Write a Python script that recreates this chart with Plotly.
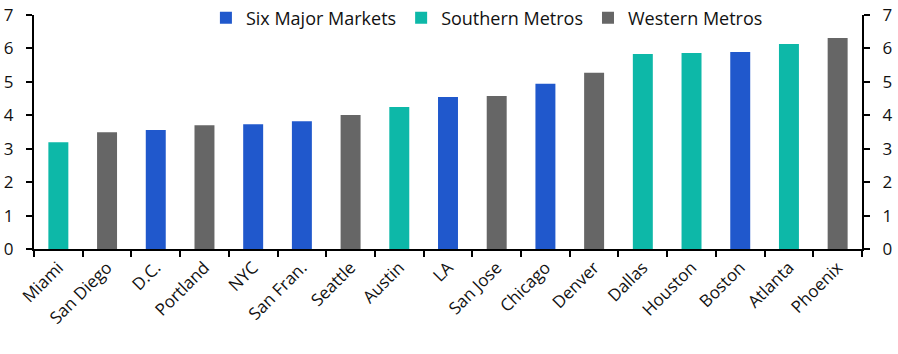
import plotly.graph_objects as go

cities = ["Miami", "San Diego", "D.C.", "Portland", "NYC", "San Fran.", "Seattle", "Austin",
          "LA", "San Jose", "Chicago", "Denver", "Dallas", "Houston", "Boston", "Atlanta", "Phoenix"]
values = [3.19, 3.49, 3.56, 3.70, 3.73, 3.82, 4.01, 4.25, 4.55, 4.58, 4.94, 5.27, 5.83, 5.86, 5.89, 6.13, 6.31]
groups = ["Southern Metros", "Western Metros", "Six Major Markets", "Western Metros", "Six Major Markets",
          "Six Major Markets", "Western Metros", "Southern Metros", "Six Major Markets", "Western Metros",
          "Six Major Markets", "Western Metros", "Southern Metros", "Southern Metros", "Six Major Markets",
          "Southern Metros", "Western Metros"]
series = ["Six Major Markets", "Southern Metros", "Western Metros"]
colors = {"Six Major Markets": "#2058CC", "Southern Metros": "#0DB8A8", "Western Metros": "#666666"}
yticks = [0, 1, 2, 3, 4, 5, 6, 7]

font = "Open Sans"
fig = go.Figure()
for s in series:
    xs = [c for c, g in zip(cities, groups) if g == s]
    ys = [v for v, g in zip(values, groups) if g == s]
    fig.add_trace(go.Bar(x=xs, y=ys, name=s, marker_color=colors[s], marker_line_width=0))
fig.add_trace(go.Scatter(x=[cities[0]], y=[0], yaxis="y2", mode="markers",
                         marker_opacity=0, showlegend=False, hoverinfo="skip"))

axis_common = dict(range=[0, 7], tickvals=yticks, ticks="outside", ticklen=6, tickwidth=2,
                   tickcolor="black", showline=True, linecolor="black", linewidth=2,
                   showgrid=False, zeroline=False, ticklabelstandoff=9,
                   tickfont=dict(size=17, color="#111"))
fig.update_layout(
    width=898, height=354, barmode="overlay", bargap=0.59,
    margin=dict(l=34, r=36, t=15, b=105, autoexpand=False),
    plot_bgcolor="white", paper_bgcolor="white",
    font=dict(family=font, size=17, color="#111"),
    xaxis=dict(categoryorder="array", categoryarray=cities, range=[-0.5, len(cities) - 0.5],
               tickangle=-45, ticks="outside", tickson="boundaries", ticklen=6, tickwidth=2,
               tickcolor="black", showline=True, linecolor="black", linewidth=2, showgrid=False,
               tickfont=dict(size=17, color="#111")),
    yaxis=dict(side="left", **axis_common),
    yaxis2=dict(side="right", overlaying="y", **axis_common),
    legend=dict(orientation="h", x=0.547, xanchor="center", y=0.987, yanchor="middle",
                font=dict(size=18), itemwidth=30, traceorder="normal", bgcolor="rgba(0,0,0,0)"),
)
fig.write_html("out.html")
